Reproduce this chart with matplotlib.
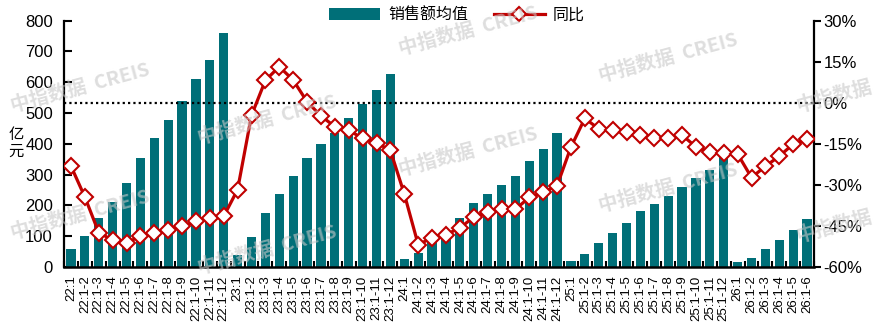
import numpy as np
import matplotlib
matplotlib.use("Agg")
import matplotlib.pyplot as plt
from matplotlib.patches import Patch
from matplotlib.lines import Line2D

plt.rcParams['font.family'] = ['Liberation Sans', 'Noto Sans CJK SC', 'DejaVu Sans']
plt.rcParams['axes.unicode_minus'] = False

# x categories: cumulative months per year
years = ["22", "23", "24", "25", "26"]
months_per_year = [12, 12, 12, 12, 6]

# 销售额均值 (亿元)
sales = [60, 101, 160, 212, 274, 355, 420, 478, 539, 610, 672, 761,
         40, 97, 176, 238, 296, 354, 399, 435, 484, 529, 575, 627,
         25, 45, 85, 115, 158, 208, 237, 267, 296, 344, 384, 436,
         19, 41, 77, 110, 142, 181, 204, 230, 259, 288, 314, 360,
         15, 28, 57, 87, 119, 155]

# 同比 (%)
yoy = [-23.1, -34.4, -47.4, -50.2, -51.1, -48.8, -47.4, -46.3, -45.2, -43.3, -42.2, -41.5,
       -31.7, -4.6, 8.2, 13.2, 8.3, 0.4, -4.8, -8.7, -10.1, -12.9, -14.6, -17.4,
       -33.3, -51.8, -49.4, -48.2, -45.7, -41.8, -40.0, -38.8, -38.9, -34.6, -32.7, -30.3,
       -16.2, -5.7, -9.5, -10.1, -10.6, -11.8, -12.9, -12.9, -11.8, -16.1, -18.1, -18.5,
       -18.7, -27.3, -23.2, -19.5, -15.1, -13.4]

left_ticks = [0, 100, 200, 300, 400, 500, 600, 700, 800]
right_ticks = [30, 15, 0, -15, -30, -45, -60]

TEAL = "#006F78"
RED = "#C00000"

labels = []
for y, n in zip(years, months_per_year):
    for m in range(1, n + 1):
        labels.append(f"{y}:1" if m == 1 else f"{y}:1-{m}")

x = np.arange(len(sales))

fig = plt.figure(figsize=(8.75, 3.32), dpi=100)
ax = fig.add_axes([64 / 875, 65 / 332, 750 / 875, 246.3 / 332])

ax.bar(x, sales, width=0.67, color=TEAL, zorder=2)
ax.set_xlim(-0.5, len(sales) - 0.5)
ax.set_ylim(0, 800)
ax.set_yticks(left_ticks)
ax.tick_params(axis='y', direction='in', length=6, width=1.5, labelsize=12, pad=8)
ax.set_xticks(x)
ax.set_xticklabels(labels, rotation=90, fontsize=9.5)
ax.tick_params(axis='x', which='major', length=0, pad=6)
ax.set_xticks(np.arange(-0.5, len(sales), 1), minor=True)
ax.tick_params(axis='x', which='minor', direction='in', length=4, width=1.5)
ax.spines['top'].set_visible(False)
ax.spines['right'].set_visible(False)
ax.spines['left'].set_linewidth(1.6)
ax.spines['bottom'].set_linewidth(1.8)

ax2 = ax.twinx()
ax2.axhline(0, color='black', lw=1.6, linestyle=(0, (1, 1.4)), zorder=1)
ax2.plot(x, yoy, color=RED, lw=2.3, marker='D', markersize=8,
         markerfacecolor='white', markeredgecolor=RED, markeredgewidth=1.5, zorder=3)
ax2.set_ylim(-60, 30)
ax2.set_yticks(right_ticks)
ax2.set_yticklabels([f"{v}%" for v in right_ticks])
ax2.tick_params(axis='y', direction='out', length=5, width=1.5, labelsize=12, pad=2)
ax2.spines['top'].set_visible(False)
ax2.spines['left'].set_visible(False)
ax2.spines['bottom'].set_visible(False)
ax2.spines['right'].set_linewidth(1.6)

fig.text(16 / 875, 1 - 143 / 332, "亿\n元", fontsize=11, ha='center', va='center',
         linespacing=1.0, family=['Noto Sans CJK SC'])

handles = [Patch(facecolor=TEAL, edgecolor='none'),
           Line2D([0], [0], color=RED, lw=2.3, marker='D', markersize=7,
                  markerfacecolor='white', markeredgecolor=RED, markeredgewidth=1.5)]
fig.legend(handles, ["销售额均值", "同比"], loc='upper center', bbox_to_anchor=(0.522, 1.02),
           ncol=2, frameon=False, fontsize=11.5, handlelength=3.2, handleheight=0.75,
           columnspacing=1.6, handletextpad=0.5)

# watermarks (the ones on the right edge only show their first half)
marks = [(80, 88, "中指数据  CREIS"), (80, 215, "中指数据  CREIS"),
         (267, 120, "中指数据  CREIS"), (267, 250, "中指数据  CREIS"),
         (468, 31, "中指数据  CREIS"), (468, 152, "中指数据  CREIS"),
         (668, 58, "中指数据  CREIS"), (668, 188, "中指数据  CREIS"),
         (834, 97, "中指数据"), (834, 227, "中指数据")]
for mx, my, txt in marks:
    fig.text(mx / 875, 1 - my / 332, txt, fontsize=14, fontweight='bold',
             color='#c8c8c8', alpha=0.6, rotation=15, ha='center', va='center',
             family=['Noto Sans CJK SC'], zorder=10)

fig.savefig("out.png", dpi=100)
